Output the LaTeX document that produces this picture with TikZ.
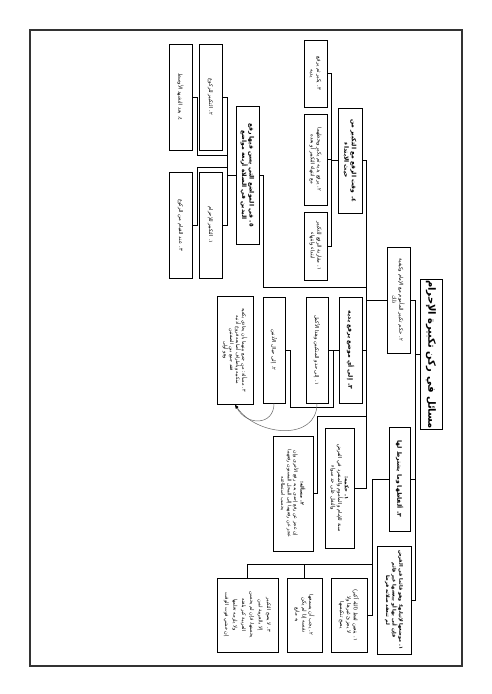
\documentclass[tikz,border=0pt]{standalone}
\usepackage{fontspec}
\newfontfamily\arf[Script=Arabic]{DejaVu Sans}
\TeXXeTstate=1
\newcommand\RL[1]{\beginR #1\endR}
\usetikzlibrary{arrows.meta}
\begin{document}
\begin{tikzpicture}[x=1pt,y=-1pt,
  box/.style={draw, line width=1pt, rotate=-90, align=center, inner sep=1pt,
    font=\arf\fontsize{5.2}{6.8}\selectfont},
  hbox/.style={box, font=\arf\bfseries\fontsize{6}{7.5}\selectfont},
  conn/.style={line width=0.9pt},
  curve/.style={line width=0.5pt, black!60, -{Latex[length=4pt,width=3pt,color=black]}}]
\useasboundingbox (0,0) rectangle (491,694);
\draw[line width=1.1pt, black!80] (30,30) rectangle (462,666);

% root
\node[box, minimum width=127pt, minimum height=22pt, font=\arf\bfseries\fontsize{10}{11}\selectfont] (R) at (431,354.5) {\RL{مسائل في ركن تكبيرة الإحرام}};

% level 1
\node[box, minimum width=106pt, minimum height=23pt] (A) at (398.5,300) {\RL{٢. حكم تكبير المأموم مع الإمام وكيفية}\\\RL{ذلك}};
\node[hbox, minimum width=104pt, minimum height=21pt] (B) at (399.5,479) {\RL{٣. ألفاظها وما يشترط لها}};
\node[box, minimum width=108pt, minimum height=34pt, font=\arf\bfseries\fontsize{4.9}{6.6}\selectfont] (C) at (394,600) {\RL{١. موضعها لإتيانها: وهو قائما في الفرض}\\\RL{فإن أتى بها أو ببعضها غير قائم}\\\RL{لم تنعقد صلاته فرضا}};

% children of A
\node[hbox, minimum width=105pt, minimum height=24pt] (A1) at (350,160.5) {\RL{٤. وقت الرفع مع التكبير من}\\\RL{حيث الابتداء}};
\node[box, minimum width=67pt, minimum height=23pt] (A1a) at (315.5,73.5) {\RL{٣. يكبر ثم يرفع}\\\RL{يديه}};
\node[box, minimum width=91pt, minimum height=23pt] (A1b) at (315.5,159.5) {\RL{٢. يرفع يديه ثم يكبر ويحطهما}\\\RL{مع انتهاء التكبير أو بعده}};
\node[box, minimum width=68pt, minimum height=23pt] (A1c) at (315.5,246) {\RL{١. مقارنة الرفع للتكبير}\\\RL{ابتداء وانتهاء}};

\node[hbox, minimum width=138pt, minimum height=23pt] (A2) at (247.5,175) {\RL{٥. في المواضع التي يسن فيها رفع}\\\RL{اليدين في الصلاة أربعة مواضع}};
\node[box, minimum width=106pt, minimum height=23pt] (A2a) at (210.5,225) {\RL{١. التكبير للإحرام}};
\node[box, minimum width=106pt, minimum height=23pt] (A2b) at (210.5,97) {\RL{٢. التكبير للركوع}};
\node[box, minimum width=106pt, minimum height=23pt] (A2c) at (180.5,225) {\RL{٣. عند القيام من الركوع}};
\node[box, minimum width=106pt, minimum height=23pt] (A2d) at (180.5,97) {\RL{٤. بعد التشهد الأوسط}};

\node[hbox, minimum width=106pt, minimum height=23pt] (A3) at (350.5,350) {\RL{٣. إلى أي موضع يرفع يديه}};
\node[box, minimum width=106pt, minimum height=22pt] (A3a) at (317,350) {\RL{١. إلى حذو المنكبين وهذا الأكمل}};
\node[box, minimum width=106pt, minimum height=22pt] (A3b) at (274,350) {\RL{٢. إلى حيال الأذنين}};
\node[box, minimum width=108pt, minimum height=36pt, font=\arf\fontsize{4.8}{6.2}\selectfont] (A3c) at (235,350) {\RL{٣. مسألة: من جمع بينهما بأن يحاذي بكفيه}\\\RL{منكبيه وبأطراف أصابعه فروع أذنيه}\\\RL{فقد جمع بين الصفتين}\\\RL{وهو أولى}};

\node[box, minimum width=120pt, minimum height=29pt] (A4) at (339.5,488) {\RL{\bfseries ١. حكمه:}\\\RL{سنة للإمام والمأموم والمنفرد في الفرض}\\\RL{والنفل على حد سواء}};
\node[box, minimum width=115pt, minimum height=40pt, font=\arf\fontsize{4.8}{6.4}\selectfont] (A5) at (293,493.5) {\RL{\bfseries ٢. مسألة:}\\\RL{إن عجز عن رفع إحدى يديه رفع الأخرى وإن}\\\RL{عجز عن رفعهما إلى المحل المسنون رفعهما}\\\RL{بحسب استطاعته}};

% children of B
\node[box, minimum width=74pt, minimum height=36pt] (C1) at (349,615) {\RL{١. يتعين لفظ (الله أكبر)}\\\RL{لا يجزئ غيرها ولا}\\\RL{يصح تنكيسها}};
\node[box, minimum width=74pt, minimum height=35pt] (C2) at (304.5,615) {\RL{٢. يجب أن يسمعها}\\\RL{نفسه إذا لم يكن}\\\RL{به مانع}};
\node[box, minimum width=74pt, minimum height=61pt, font=\arf\fontsize{5}{8.4}\selectfont] (C3) at (247.5,615) {\RL{٣. لا يصح التكبير}\\\RL{إلا بالعربية لمن}\\\RL{يحسنها، فإن لم يحسن}\\\RL{العربية كبر بلغته}\\\RL{ولا يلزمه تعلمها}\\\RL{إن خشي فوت الوقت}};

% buses
\coordinate (bus1) at (415,0);
\coordinate (bus2) at (366,0);
\coordinate (bus3) at (372,0);
\coordinate (busA1) at (331,0);
\coordinate (busA2) at (227,0);
\coordinate (busA2o) at (197,0);
\coordinate (j2) at (366,287);
\coordinate (j5) at (366,416);
\coordinate (u1) at (333,407);
\coordinate (u2) at (290,407);
\coordinate (v1) at (227,155);
\coordinate (v2) at (227,167);
\coordinate (h3) at (372,564);

\draw[conn] (R.south) -- (R.south -| bus1);
\draw[conn] (A.north) -- (A.north -| bus1) -- (C.north -| bus1) -- (C.north);
\draw[conn] (B.north) -- (B.north -| bus1);

\draw[conn] (A.south) -- (A.south -| bus2);
\draw[conn] (A1.north) -- (A1.north -| bus2) -- (A4.north -| bus2) -- (A4.north);
\draw[conn] (A3.north) -- (A3.north -| bus2);
\draw[conn] (A2.north) -- ++(4,0) |- (j2);
\draw[conn] (A5.north) -- ++(4,0) |- (j5);

\draw[conn] (A1.south) -- (A1.south -| busA1);
\draw[conn] (A1a.north) -- (A1a.north -| busA1) -- (A1c.north -| busA1) -- (A1c.north);
\draw[conn] (A1b.north) -- (A1b.north -| busA1);

\draw[conn] (A3.south) -- (A3a.north);
\draw[conn] (A3.south -| u1) -- (u1) -- (u2) -- (u2 |- A3b.north) -- (A3b.north);

\draw[conn] (A2.south) -- (A2.south -| busA2);
\draw[conn] (A2b.north) -- (A2b.north -| busA2) -- (A2a.north -| busA2) -- (A2a.north);
\draw[conn] (v1) -| (busA2o |- A2d.north) -- (A2d.north);
\draw[conn] (v2) -| (busA2o |- A2c.north) -- (A2c.north);

\draw[conn] (B.south) -- (B.south -| bus3) -- (C1.north -| bus3) -- (C1.north);
\draw[conn] (C3.west) |- (h3);
\draw[conn] (C2.west) -- (C2.west |- h3);

% curved arrows
\draw[curve] (A3b.east) .. controls +(0,22) and +(12,22) .. (A3c.east);
\draw[curve] (A3a.east) .. controls +(0,38) and +(22,32) .. (A3c.east);
\end{tikzpicture}
\end{document}
